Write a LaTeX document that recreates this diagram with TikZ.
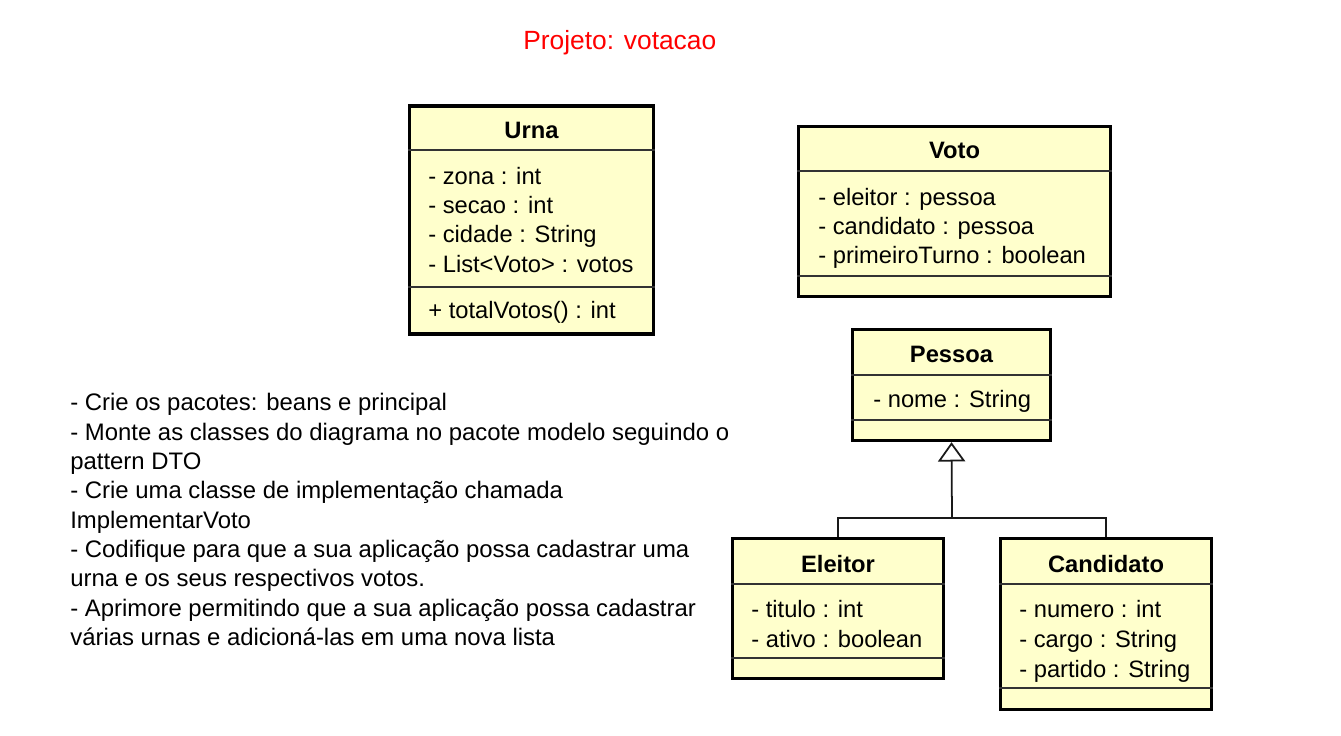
\documentclass[tikz,border=0pt]{standalone}
\usepackage{fontspec}
\setmainfont{Liberation Sans}
\usetikzlibrary{arrows.meta}

\definecolor{umlyellow}{RGB}{255,255,204}
\definecolor{projred}{RGB}{255,0,0}

\tikzset{
  classbox/.style={draw, line width=1.9pt, fill=umlyellow, inner sep=0pt},
  classname/.style={anchor=base, inner sep=0pt, font=\fontsize{13.5}{16}\selectfont\bfseries},
  member/.style={anchor=base west, inner sep=0pt, font=\fontsize{13.5}{16}\selectfont},
  divider/.style={line width=0.8pt, black!80},
  extends/.style={line width=1pt, black!90, -{Triangle[open, length=11pt, width=15.5pt]}}
}

\begin{document}
\begin{tikzpicture}[x=0.02cm, y=-0.02cm]
\useasboundingbox (0,0) rectangle (1341,735);

\node [anchor=base west, inner sep=0pt, text=projred,
    font=\fontsize{15}{18}\selectfont] (T) at (523,49) {Projeto: votacao};

% Class Urna
\node [classbox,
    minimum width=4.88cm,
    minimum height=4.56cm] (urna) at (531.5,220) {};
\node [classname] (urnaN) at (531.5,138) {Urna};
\draw [divider] (urna.west |- 0,150) -- (urna.east |- 0,150);
\node [member] (urna1) at (428,184) {- zona : int};
\node [member] (urna2) at (428,213) {- secao : int};
\node [member] (urna3) at (428,242) {- cidade : String};
\node [member] (urna4) at (428,272) {- List<Voto> : votos};
\draw [divider] (urna.west |- 0,287) -- (urna.east |- 0,287);
\node [member] (urna5) at (428,318) {+ totalVotos() : int};

% Class Voto
\node [classbox,
    minimum width=6.24cm,
    minimum height=3.4cm] (voto) at (954.5,211.5) {};
\node [classname] (votoN) at (954.5,158) {Voto};
\draw [divider] (voto.west |- 0,171) -- (voto.east |- 0,171);
\node [member] (voto1) at (818,205) {- eleitor : pessoa};
\node [member] (voto2) at (818,234) {- candidato : pessoa};
\node [member] (voto3) at (818,263) {- primeiroTurno : boolean};
\draw [divider] (voto.west |- 0,276) -- (voto.east |- 0,276);

% Class Pessoa
\node [classbox,
    minimum width=3.96cm,
    minimum height=2.22cm] (pessoa) at (951.5,385) {};
\node [classname] (pessoaN) at (951.5,362) {Pessoa};
\draw [divider] (pessoa.west |- 0,375) -- (pessoa.east |- 0,375);
\node [member] (pessoa1) at (873,407) {- nome : String};
\draw [divider] (pessoa.west |- 0,420) -- (pessoa.east |- 0,420);

% Class Eleitor
\node [classbox,
    minimum width=4.22cm,
    minimum height=2.8cm] (eleitor) at (838,608.5) {};
\node [classname] (eleitorN) at (838,572) {Eleitor};
\draw [divider] (eleitor.west |- 0,584) -- (eleitor.east |- 0,584);
\node [member] (eleitor1) at (751,617) {- titulo : int};
\node [member] (eleitor2) at (751,647) {- ativo : boolean};
\draw [divider] (eleitor.west |- 0,658) -- (eleitor.east |- 0,658);

% Class Candidato
\node [classbox,
    minimum width=4.22cm,
    minimum height=3.42cm] (candidato) at (1106,624) {};
\node [classname] (candidatoN) at (1106,572) {Candidato};
\draw [divider] (candidato.west |- 0,584) -- (candidato.east |- 0,584);
\node [member] (candidato1) at (1019,617) {- numero : int};
\node [member] (candidato2) at (1019,647) {- cargo : String};
\node [member] (candidato3) at (1019,677) {- partido : String};
\draw [divider] (candidato.west |- 0,688) -- (candidato.east |- 0,688);

% Generalization
\coordinate (join) at (952,518);
\draw [line width=1pt, black!90] (eleitor.north) |- (join) -| (candidato.north);
\draw [extends] (join) -- (pessoa.south);

% Notes
\node [anchor=north west, inner sep=0pt, align=left,
    font=\fontsize{13.6}{16.7}\selectfont] (notes) at (70,393)
    {- Crie os pacotes: beans e principal\\
     - Monte as classes do diagrama no pacote modelo seguindo o\\
     pattern DTO\\
     - Crie uma classe de implementação chamada\\
     ImplementarVoto\\
     - Codifique para que a sua aplicação possa cadastrar uma\\
     urna e os seus respectivos votos.\\
     - Aprimore permitindo que a sua aplicação possa cadastrar\\
     várias urnas e adicioná-las em uma nova lista};

\end{tikzpicture}
\end{document}
